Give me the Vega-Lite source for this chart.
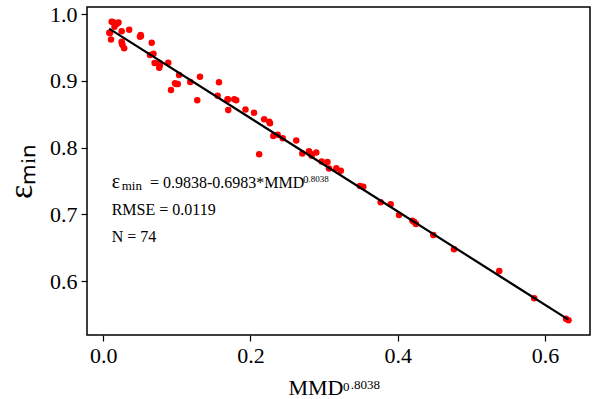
{
  "$schema": "https://vega.github.io/schema/vega-lite/v6.json",
  "width": 503,
  "height": 328,
  "autosize": {"type": "none"},
  "padding": {"left": 87, "top": 7, "right": 8, "bottom": 64},
  "background": "white",
  "config": {
    "view": {"stroke": "black", "strokeWidth": 1.5},
    "font": "Liberation Serif",
    "text": {"font": "Liberation Serif"},
    "axis": {
      "grid": false,
      "domain": false,
      "tickColor": "black",
      "tickSize": 6,
      "tickWidth": 1.2,
      "labelColor": "black",
      "labelFont": "Liberation Serif",
      "labelFontSize": 22,
      "titleFont": "Liberation Serif",
      "titleColor": "black",
      "titleFontWeight": "normal"
    }
  },
  "datasets": {
    "pts": [
      {"x": 0.0114, "y": 0.9885}, {"x": 0.0182, "y": 0.9850}, {"x": 0.0152, "y": 0.9810}, {"x": 0.0082, "y": 0.9720},
      {"x": 0.0105, "y": 0.9618}, {"x": 0.0250, "y": 0.9741}, {"x": 0.0352, "y": 0.9763}, {"x": 0.0250, "y": 0.9585},
      {"x": 0.0261, "y": 0.9536}, {"x": 0.0284, "y": 0.9487}, {"x": 0.0499, "y": 0.9660}, {"x": 0.0508, "y": 0.9686},
      {"x": 0.0658, "y": 0.9570}, {"x": 0.0682, "y": 0.9404}, {"x": 0.0635, "y": 0.9386}, {"x": 0.0698, "y": 0.9266},
      {"x": 0.0760, "y": 0.9262}, {"x": 0.0760, "y": 0.9196}, {"x": 0.0883, "y": 0.9271}, {"x": 0.1030, "y": 0.9087},
      {"x": 0.0920, "y": 0.8862}, {"x": 0.0974, "y": 0.8963}, {"x": 0.1012, "y": 0.8952}, {"x": 0.1182, "y": 0.8982},
      {"x": 0.1314, "y": 0.9061}, {"x": 0.1277, "y": 0.8708}, {"x": 0.1572, "y": 0.8979}, {"x": 0.1554, "y": 0.8775},
      {"x": 0.1688, "y": 0.8725}, {"x": 0.1698, "y": 0.8563}, {"x": 0.1780, "y": 0.8725}, {"x": 0.1807, "y": 0.8708},
      {"x": 0.1932, "y": 0.8570}, {"x": 0.2048, "y": 0.8522}, {"x": 0.2186, "y": 0.8424}, {"x": 0.2255, "y": 0.8388},
      {"x": 0.2265, "y": 0.8364}, {"x": 0.2310, "y": 0.8174}, {"x": 0.2370, "y": 0.8193}, {"x": 0.2438, "y": 0.8139},
      {"x": 0.2118, "y": 0.7900}, {"x": 0.2622, "y": 0.8106}, {"x": 0.2704, "y": 0.7912}, {"x": 0.2795, "y": 0.7945},
      {"x": 0.2832, "y": 0.7879}, {"x": 0.2894, "y": 0.7927}, {"x": 0.2967, "y": 0.7792}, {"x": 0.3046, "y": 0.7784},
      {"x": 0.3067, "y": 0.7687}, {"x": 0.3166, "y": 0.7692}, {"x": 0.3227, "y": 0.7653}, {"x": 0.3488, "y": 0.7425},
      {"x": 0.3533, "y": 0.7415}, {"x": 0.3769, "y": 0.7181}, {"x": 0.3905, "y": 0.7153}, {"x": 0.4018, "y": 0.6991},
      {"x": 0.4201, "y": 0.6904}, {"x": 0.4249, "y": 0.6856}, {"x": 0.4484, "y": 0.6692}, {"x": 0.4765, "y": 0.6478},
      {"x": 0.5380, "y": 0.6153}, {"x": 0.5855, "y": 0.5744}, {"x": 0.6287, "y": 0.5439}, {"x": 0.6321, "y": 0.5415},
      {"x": 0.0132, "y": 0.9880}, {"x": 0.0207, "y": 0.9873}, {"x": 0.0091, "y": 0.9716}, {"x": 0.0254, "y": 0.9558},
      {"x": 0.0512, "y": 0.9671}, {"x": 0.0770, "y": 0.9237}, {"x": 0.0988, "y": 0.8952}, {"x": 0.1694, "y": 0.8720},
      {"x": 0.2822, "y": 0.7904}, {"x": 0.4226, "y": 0.6886}
    ],
    "fit": [
      {"x": 0.008, "y": 0.97821},
      {"x": 0.632, "y": 0.54248}
    ],
    "notes": [
      {"x": 0.0114, "y": 0.7391, "t": "ε", "fs": 20},
      {"x": 0.0250, "y": 0.7370, "t": "min", "fs": 13},
      {"x": 0.0635, "y": 0.7391, "t": "= 0.9838-0.6983*MMD", "fs": 16},
      {"x": 0.2713, "y": 0.7475, "t": "0", "fs": 11},
      {"x": 0.2790, "y": 0.7490, "t": ".8038", "fs": 9},
      {"x": 0.0114, "y": 0.6991, "t": "RMSE = 0.0119", "fs": 16},
      {"x": 0.0114, "y": 0.6587, "t": "N = 74", "fs": 16},
      {"x": 0.3257, "y": 0.4360, "t": "0", "fs": 13},
      {"x": 0.3362, "y": 0.4380, "t": ".8038", "fs": 13}
    ]
  },
  "layer": [
    {
      "data": {"name": "pts"},
      "mark": {"type": "circle", "color": "#ff0000", "opacity": 1, "size": 42},
      "encoding": {
        "x": {
          "field": "x", "type": "quantitative",
          "scale": {"domain": [-0.0221, 0.6613], "nice": false, "zero": false},
          "axis": {"values": [0, 0.2, 0.4, 0.6], "format": ".1f", "title": "MMD", "titleFontSize": 22, "titleAlign": "left", "titleAnchor": "start", "titleX": 201, "titleY": 59, "titleBaseline": "alphabetic", "labelPadding": 4}
        },
        "y": {
          "field": "y", "type": "quantitative",
          "scale": {"domain": [0.5195, 1.0105], "nice": false, "zero": false},
          "axis": {"values": [0.6, 0.7, 0.8, 0.9, 1.0], "format": ".1f", "title": "εₘᵢₙ", "titleFontSize": 34, "titlePadding": 11, "labelPadding": 4}
        }
      }
    },
    {
      "data": {"name": "fit"},
      "mark": {"type": "line", "color": "black", "strokeWidth": 2.2},
      "encoding": {
        "x": {"field": "x", "type": "quantitative"},
        "y": {"field": "y", "type": "quantitative"}
      }
    },
    {
      "data": {"name": "notes"},
      "mark": {"type": "text", "align": "left", "baseline": "alphabetic", "font": "Liberation Serif", "color": "black"},
      "encoding": {
        "x": {"field": "x", "type": "quantitative"},
        "y": {"field": "y", "type": "quantitative"},
        "text": {"field": "t"},
        "size": {"field": "fs", "type": "quantitative", "scale": null}
      }
    }
  ]
}
